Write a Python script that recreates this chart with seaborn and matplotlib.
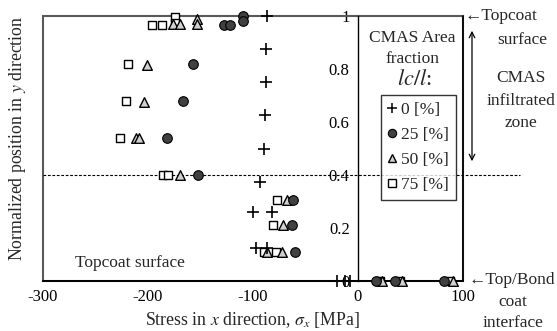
import matplotlib
matplotlib.use("Agg")
import matplotlib.pyplot as plt
import matplotlib.transforms as mtransforms
import seaborn as sns
import pandas as pd
from matplotlib.lines import Line2D
from matplotlib.patches import Rectangle, FancyArrowPatch

sns.set_theme(style="white")
plt.rcParams['font.family'] = ['Liberation Serif', 'DejaVu Serif']
plt.rcParams['mathtext.fontset'] = 'stix'

labels = ["0 [%]", "25 [%]", "50 [%]", "75 [%]"]

x0 = [-87, -88, -88, -89, -90, -93, -100, -82, -97, -87, -20, -12, -8]
y0 = [1.0, 0.875, 0.75, 0.625, 0.5, 0.375, 0.26, 0.26, 0.125, 0.125, 0, 0, 0]

x25 = [-110, -110, -128, -122, -157, -167, -182, -152, -62, -63, -60, 17, 35, 82]
y25 = [1.0, 0.98, 0.965, 0.965, 0.82, 0.68, 0.54, 0.40, 0.305, 0.21, 0.11, 0, 0, 0]

x50 = [-153, -153, -176, -170, -201, -204, -211, -209, -170, -68, -71, -87, -72, 23, 42, 90]
y50 = [0.99, 0.97, 0.97, 0.97, 0.815, 0.675, 0.54, 0.54, 0.40, 0.305, 0.21, 0.11, 0.11, 0, 0, 0]

x75 = [-174, -174, -196, -187, -219, -221, -227, -186, -181, -77, -81, -90, -78, 21, 40, 88]
y75 = [0.995, 0.975, 0.965, 0.965, 0.82, 0.68, 0.54, 0.40, 0.40, 0.305, 0.21, 0.11, 0.11, 0, 0, 0]

xticks = [-300, -200, -100, 0, 100]
yticks = [0, 0.2, 0.4, 0.6, 0.8, 1.0]
ytick_labels = ["0", "0.2", "0.4", "0.6", "0.8", "1"]

fig = plt.figure(figsize=(5.57, 3.31), dpi=100)
ax = fig.add_axes([43/557, 50/331, 420/557, 265/331])

d0 = pd.DataFrame({"x": x0, "y": y0})
d25 = pd.DataFrame({"x": x25, "y": y25})
d50 = pd.DataFrame({"x": x50, "y": y50})
d75 = pd.DataFrame({"x": x75, "y": y75})

sns.scatterplot(data=d75, x="x", y="y", marker="s", s=40, color="white",
                edgecolor="black", linewidth=1.0, ax=ax, zorder=3, clip_on=False, legend=False)
sns.scatterplot(data=d50, x="x", y="y", marker="^", s=48, color="#d0d0d0",
                edgecolor="black", linewidth=1.0, ax=ax, zorder=4, clip_on=False, legend=False)
sns.scatterplot(data=d25, x="x", y="y", marker="o", s=48, color="#404040",
                edgecolor="black", linewidth=0.8, ax=ax, zorder=5, clip_on=False, legend=False)
sns.scatterplot(data=d0, x="x", y="y", marker="+", s=70, color="black",
                linewidth=1.2, ax=ax, zorder=6, clip_on=False, legend=False)

ax.set_xlim(-300, 100)
ax.set_ylim(0, 1)
ax.set_ylabel("")

# spines: y axis at x=0
for s in ["top", "right", "bottom", "left"]:
    ax.spines[s].set_visible(False)
ax.spines["left"].set_visible(True)
ax.spines["left"].set_position(("data", 0))
ax.spines["left"].set_color("black")
ax.spines["left"].set_linewidth(1.0)
ax.spines["bottom"].set_visible(True)
ax.spines["bottom"].set_color("black")
ax.spines["bottom"].set_linewidth(1.2)

# outer box
ax.add_patch(Rectangle((0, 0), 1, 1, transform=ax.transAxes, fill=False,
                       edgecolor="#595959", linewidth=1.5, clip_on=False, zorder=1))
ax.plot([1, 1], [0, 1], transform=ax.transAxes, color="black", lw=1.2, clip_on=False, zorder=2)
ax.plot([0, 1], [0, 0], transform=ax.transAxes, color="black", lw=1.2, clip_on=False, zorder=2)

ax.set_xticks(xticks)
ax.set_xticklabels([str(v) for v in xticks])
ax.set_yticks(yticks)
ax.set_yticklabels(ytick_labels)
ax.tick_params(axis="x", direction="in", length=4, width=1, labelsize=12, pad=6, colors="black")
ax.tick_params(axis="y", direction="inout", length=8, width=1, labelsize=12, pad=2, colors="black")
ax.grid(False)

ax.set_xlabel(r"Stress in $x$ direction, $\sigma_x$ [MPa]", fontsize=12.8, labelpad=3)
fig.text(18/557, 1 - 138/331, r"Normalized position in $y$ direction", rotation=90,
         ha="center", va="center", fontsize=12.8)

# dashed line at 0.4 extending outside
ax.plot([0, (520-43)/420], [0.4, 0.4],
        transform=mtransforms.blended_transform_factory(ax.transAxes, ax.transData),
        ls=(0, (2.5, 1.5)), color="black", lw=0.8, clip_on=False, zorder=1)

def ax_x(px):
    return (px - 43) / 420
def ax_y(py):
    return (281 - py) / 265

# inner texts
ax.text(ax_x(412), ax_y(38), "CMAS Area", transform=ax.transAxes, ha="center", va="center", fontsize=12.5)
ax.text(ax_x(412), ax_y(59), "fraction", transform=ax.transAxes, ha="center", va="center", fontsize=12.5)
ax.text(ax_x(414), ax_y(80), "$lc/l$:", transform=ax.transAxes, ha="center", va="center", fontsize=16)
ax.text(ax_x(130), ax_y(263), "Topcoat surface", transform=ax.transAxes, ha="center", va="center", fontsize=12.5)

handles = [
    Line2D([], [], ls="none", marker="+", markersize=7, markeredgewidth=1.1, color="black"),
    Line2D([], [], ls="none", marker="o", markersize=6, markerfacecolor="#404040", markeredgecolor="black", markeredgewidth=0.8),
    Line2D([], [], ls="none", marker="^", markersize=6, markerfacecolor="#d0d0d0", markeredgecolor="black", markeredgewidth=1.0),
    Line2D([], [], ls="none", marker="s", markersize=5.5, markerfacecolor="white", markeredgecolor="black", markeredgewidth=1.0),
]
leg = ax.legend(handles, labels, loc="upper left", bbox_to_anchor=(ax_x(381), ax_y(95)),
                frameon=True, fancybox=False, edgecolor="black", fontsize=12.5,
                handlelength=0.5, handletextpad=0.25, borderpad=0.4, labelspacing=0.5,
                borderaxespad=0)
leg.get_frame().set_linewidth(1.0)

# right annotations (figure coords)
def fx(px):
    return px / 557
def fy(py):
    return 1 - py / 331

fs = 12.5
fig.text(fx(465), fy(16), "←Topcoat", ha="left", va="center", fontsize=fs)
fig.text(fx(522), fy(40), "surface", ha="center", va="center", fontsize=fs)
fig.text(fx(521), fy(78), "CMAS", ha="center", va="center", fontsize=fs)
fig.text(fx(521), fy(101), "infiltrated", ha="center", va="center", fontsize=fs)
fig.text(fx(521), fy(123), "zone", ha="center", va="center", fontsize=fs)
fig.add_artist(FancyArrowPatch((fx(472), fy(28)), (fx(472), fy(164)),
               transform=fig.transFigure, arrowstyle="<->", mutation_scale=10, lw=0.9, color="black"))
fig.text(fx(468), fy(280), "←Top/Bond", ha="left", va="center", fontsize=fs)
fig.text(fx(513), fy(302), "coat", ha="center", va="center", fontsize=fs)
fig.text(fx(513), fy(323), "interface", ha="center", va="center", fontsize=fs)

fig.savefig("out.png", dpi=100)
